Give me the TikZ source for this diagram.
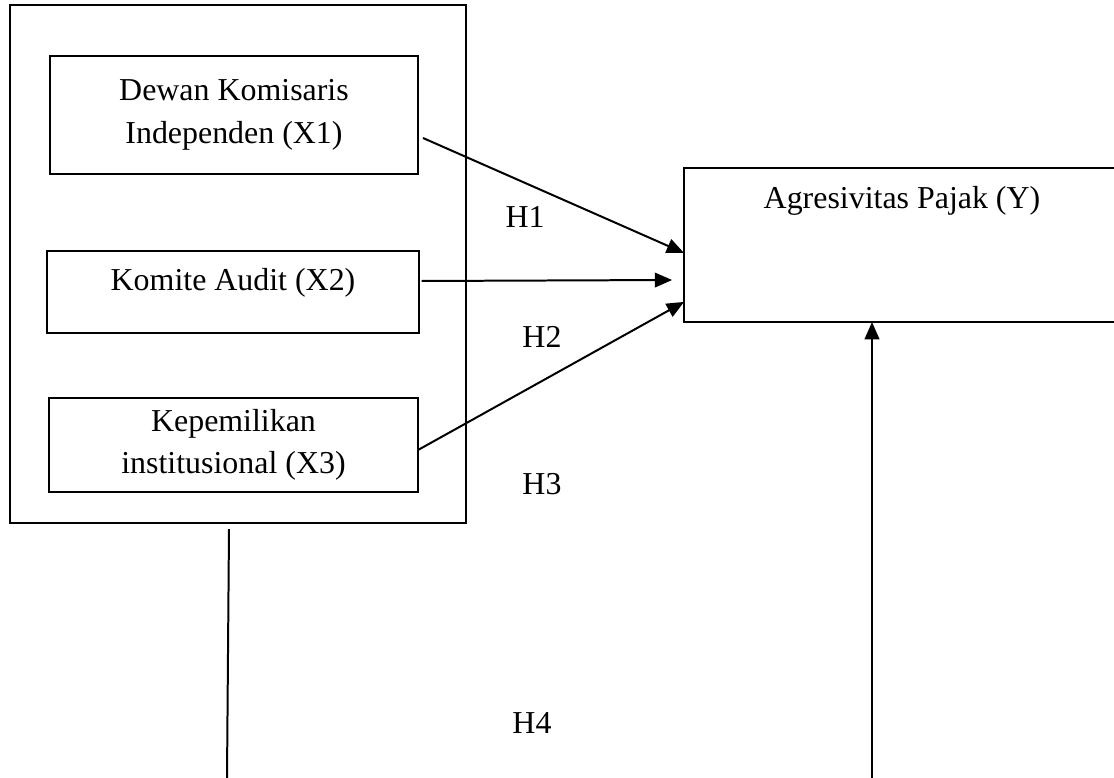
\documentclass[tikz,border=0pt]{standalone}
\usepackage{fontspec}
\setmainfont{Liberation Serif}
\usetikzlibrary{arrows.meta,positioning}
\tikzset{
    box/.style={draw, rectangle, line width=0.75pt, inner sep=0pt, outer sep=0pt, align=center,
                font=\fontsize{12}{16}\selectfont},
    arr/.style={-{Triangle[length=6.5pt, width=5.5pt]}, line width=0.75pt},
    hyp/.style={font=\fontsize{12}{14}\selectfont}
}

\begin{document}
\begin{tikzpicture}[x=0.376pt, y=-0.376pt]
    \clip (0,0) rectangle (1114,778);

    % Independent variables
    \node[box, minimum width=171.5pt, minimum height=194.8pt] (grp) at (238,264) {};
    \node[box, minimum width=138.4pt, minimum height=44.7pt] (x1) at (234,115) {Dewan Komisaris\\Independen (X1)};
    \node[box, minimum width=139.9pt, minimum height=30.8pt, text height=8.5pt, text depth=9.3pt] (x2) at (233,292) {Komite Audit (X2)};
    \node[box, minimum width=138.7pt, minimum height=35.3pt] (x3) at (233.5,445) {Kepemilikan\\institusional (X3)};

    % Dependent variable
    \node[box, minimum width=163.9pt, minimum height=57.9pt, text height=8.5pt, text depth=36pt] (y) at (902,245) {Agresivitas Pajak (Y)};

    % Hypotheses
    \node[hyp] (h1) at (525,217) {H1};
    \node[hyp] (h2) at (542,337) {H2};
    \node[hyp] (h3) at (542,484) {H3};
    \node[hyp] (h4) at (532,723) {H4};

    % Arrows
    \draw[arr] ([shift={(5,23)}]x1.east) -- ([yshift=-3pt]y.west);
    \draw[arr] ([xshift=1pt]x2.east |- 0,281) -- ([xshift=-4.5pt]y.west |- 0,280);
    \draw[arr] ([yshift=-1.9pt]x3.east) -- ([yshift=-21.4pt]y.west);

    \coordinate (botl) at (227,778);
    \coordinate (botr) at (872,778);
    \draw[line width=0.75pt] ([shift={(-9,6)}]grp.south) -- (botl);
    \draw[arr] (botr) -- (botr |- y.south);
\end{tikzpicture}
\end{document}
